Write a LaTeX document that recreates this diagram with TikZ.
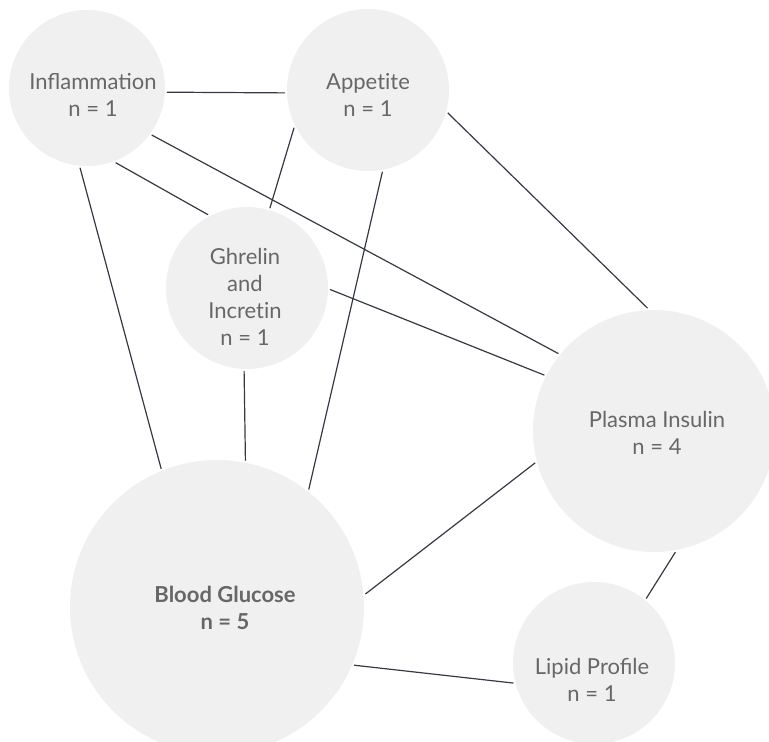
\documentclass[tikz,border=0pt]{standalone}
\usepackage{fontspec}
\setmainfont{Lato}
\usepackage{tikz}

\definecolor{bubblegray}{HTML}{F0F0F0}
\definecolor{textgray}{HTML}{676767}
\definecolor{linkgray}{HTML}{353944}

% t and i kept apart (no ti ligature)
\newcommand{\tI}{t\kern0pt i}

\tikzset{
  bubble/.style={circle, fill=bubblegray, draw=none, inner sep=0pt, outer sep=2pt},
  txt/.style={align=center, text=textgray, font=\fontsize{22}{27}\selectfont},
  link/.style={draw=linkgray, line width=1.2pt}
}

\begin{document}
\begin{tikzpicture}[x=1pt,y=-1pt]

\clip (0,0) rectangle (769,742);

%% bubbles
\node[bubble, minimum size=156pt] (infl) at (87,88) {};
\node[bubble, minimum size=162pt] (app) at (368,90) {};
\node[bubble, minimum size=162pt] (ghr) at (247,288) {};
\node[bubble, minimum size=242pt] (plas) at (654,431) {};
\node[bubble, minimum size=294pt] (blood) at (217,607) {};
\node[bubble, minimum size=162pt] (lipid) at (594,663) {};

%% texts
\node[txt] (infltxt) at (93,95) {Inflammation\\n = 1};
\node[txt] (apptxt) at (368,95) {Appe\tI te\\n = 1};
\node[txt] (ghrtxt) at (245,297) {Ghrelin\\and\\Incre\tI n\\n = 1};
\node[txt] (plastxt) at (657,433) {Plasma Insulin\\n = 4};
\node[txt, font=\fontsize{22}{27}\selectfont\bfseries] (bloodtxt) at (225,608) {Blood Glucose\\n = 5};
\node[txt] (lipidtxt) at (592,680) {Lipid Profile\\n = 1};

%%% edges
\draw[link] (infl.-3) -- (app.182);
\draw[link] (infl.-69) -- (ghr.118);
\draw[link] (infl.-36) -- (plas.141);
\draw[link] (infl.265) -- (blood.112);
\draw[link] (app.207) -- (ghr.74);
\draw[link] (app.-80) -- (blood.52);
\draw[link] (app.-16) -- (plas.93);
\draw[link] (ghr.-1) -- (plas.153);
\draw[link] (ghr.-92) -- (blood.79);
\draw[link] (blood.5) -- (plas.195);
\draw[link] (blood.-23) -- (lipid.194);
\draw[link] (plas.-80) -- (lipid.51);

\end{tikzpicture}
\end{document}
